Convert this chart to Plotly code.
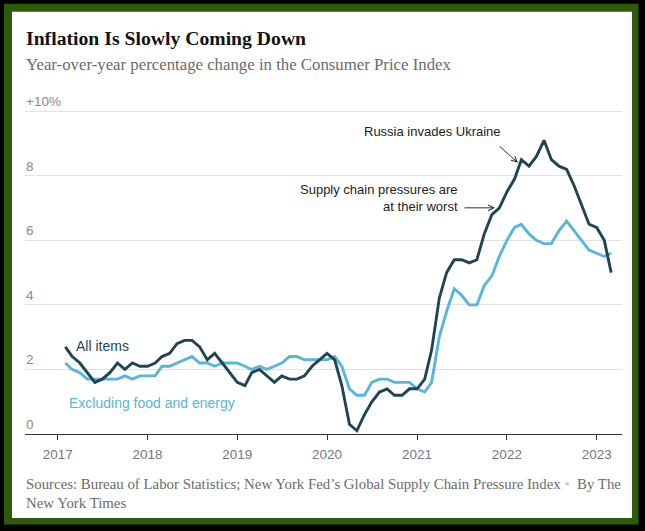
import pandas as pd
import plotly.graph_objects as go

# ---- data (year-over-year % change in CPI), monthly Feb 2017 - Mar 2023 ----
start_month = "2017-02-01"
n_months = 74
dates = pd.date_range(start_month, periods=n_months, freq="MS")

all_items = [
    2.7, 2.4, 2.2, 1.9, 1.6, 1.7, 1.9, 2.2, 2.0, 2.2, 2.1,            # 2017 Feb-Dec
    2.1, 2.2, 2.4, 2.5, 2.8, 2.9, 2.9, 2.7, 2.3, 2.5, 2.2, 1.9,       # 2018
    1.6, 1.5, 1.9, 2.0, 1.8, 1.6, 1.8, 1.7, 1.7, 1.8, 2.1, 2.3,       # 2019
    2.5, 2.3, 1.5, 0.3, 0.1, 0.6, 1.0, 1.3, 1.4, 1.2, 1.2, 1.4,       # 2020
    1.4, 1.7, 2.6, 4.2, 5.0, 5.4, 5.4, 5.3, 5.4, 6.2, 6.8, 7.0,       # 2021
    7.5, 7.9, 8.5, 8.3, 8.6, 9.1, 8.5, 8.3, 8.2, 7.7, 7.1, 6.5,       # 2022
    6.4, 6.0, 5.0,                                                    # 2023
]
core = [
    2.2, 2.0, 1.9, 1.7, 1.7, 1.7, 1.7, 1.7, 1.8, 1.7, 1.8,            # 2017 Feb-Dec
    1.8, 1.8, 2.1, 2.1, 2.2, 2.3, 2.4, 2.2, 2.2, 2.1, 2.2, 2.2,       # 2018
    2.2, 2.1, 2.0, 2.1, 2.0, 2.1, 2.2, 2.4, 2.4, 2.3, 2.3, 2.3,       # 2019
    2.3, 2.4, 2.1, 1.4, 1.2, 1.2, 1.6, 1.7, 1.7, 1.6, 1.6, 1.6,       # 2020
    1.4, 1.3, 1.6, 3.0, 3.8, 4.5, 4.3, 4.0, 4.0, 4.6, 4.9, 5.5,       # 2021
    6.0, 6.4, 6.5, 6.2, 6.0, 5.9, 5.9, 6.3, 6.6, 6.3, 6.0, 5.7,       # 2022
    5.6, 5.5, 5.6,                                                    # 2023
]

y_tickvals = [0, 2, 4, 6, 8, 10]
y_ticktext = ["0", "2", "4", "6", "8", "+10%"]
x_tickvals = ["2017-01-01", "2018-01-01", "2019-01-01", "2020-01-01",
              "2021-01-01", "2022-01-01", "2023-01-01"]
x_ticktext = ["2017", "2018", "2019", "2020", "2021", "2022", "2023"]

title = "Inflation Is Slowly Coming Down"
subtitle = "Year-over-year percentage change in the Consumer Price Index"
source = ("Sources: Bureau of Labor Statistics; New York Fed\u2019s Global Supply Chain "
          "Pressure Index <span style='color:#d0d0d0'>\u2022</span>  By The<br>New York Times")

# ---- styling / geometry ----
W, H = 645, 531
L, R = 25, 622          # plot area left / right in px
B = 434                 # y=0 line in px
PX_PER_UNIT = 32.25
Y_MAX = 11
T = B - Y_MAX * PX_PER_UNIT
PW, PH = R - L, B - T

DARK = "#1f4552"
LIGHT = "#57b6da"
SANS = "Liberation Sans, Arial, sans-serif"
SERIF = "Liberation Serif, Times New Roman, serif"


def px(xp):
    return (xp - L) / PW


def py(yp):
    return (B - yp) / PH


fig = go.Figure()
fig.add_trace(go.Scatter(x=dates, y=core, mode="lines",
                         line=dict(color=LIGHT, width=2.9), hoverinfo="skip"))
fig.add_trace(go.Scatter(x=dates, y=all_items, mode="lines",
                         line=dict(color=DARK, width=2.9), hoverinfo="skip"))

# frame: black outer, green band, white card
shapes = [
    dict(type="rect", xref="paper", yref="paper", layer="below",
         x0=px(4), x1=px(638.5), y0=py(524.5), y1=py(4),
         fillcolor="#2d5b0c", line=dict(width=0)),
    dict(type="rect", xref="paper", yref="paper", layer="below",
         x0=px(12), x1=px(632), y0=py(518), y1=py(12),
         fillcolor="white", line=dict(width=0)),
]

annotations = [
    dict(text="<b>" + title + "</b>", x=px(24), y=py(38), xref="paper", yref="paper",
         xanchor="left", yanchor="middle", showarrow=False,
         font=dict(family=SERIF, size=19.7, color="#121212")),
    dict(text=subtitle, x=px(24), y=py(65), xref="paper", yref="paper",
         xanchor="left", yanchor="middle", showarrow=False,
         font=dict(family=SERIF, size=16.8, color="#6b6b6b")),
    dict(text=source, x=px(24), y=py(474), xref="paper", yref="paper",
         xanchor="left", yanchor="top", align="left", showarrow=False,
         font=dict(family=SERIF, size=14.85, color="#6b6b6b")),
    dict(text="All items", x=px(74), y=py(346), xref="paper", yref="paper",
         xanchor="left", yanchor="middle", showarrow=False,
         font=dict(family=SANS, size=14, color=DARK)),
    dict(text="Excluding food and energy", x=px(67), y=py(403), xref="paper", yref="paper",
         xanchor="left", yanchor="middle", showarrow=False,
         font=dict(family=SANS, size=14, color=LIGHT)),
    dict(text="Russia invades Ukraine", x=px(503), y=py(132), xref="paper", yref="paper",
         xanchor="right", yanchor="middle", showarrow=False,
         font=dict(family=SANS, size=13, color="#222")),
    dict(text="Supply chain pressures are<br>at their worst", x=px(460), y=py(198),
         xref="paper", yref="paper", xanchor="right", yanchor="middle", align="right",
         showarrow=False, font=dict(family=SANS, size=13, color="#222")),
    # arrows
    dict(text="", x=px(518), y=py(163), xref="paper", yref="paper",
         ax=-20, ay=-18, showarrow=True, arrowhead=5, arrowsize=1.1,
         arrowwidth=1, arrowcolor="#333"),
    dict(text="", x=px(495), y=py(208), xref="paper", yref="paper",
         ax=-32, ay=0, showarrow=True, arrowhead=5, arrowsize=1.1,
         arrowwidth=1, arrowcolor="#333"),
]

# y tick labels drawn above their gridlines, left-aligned
for v, t in zip(y_tickvals, y_ticktext):
    annotations.append(dict(text=t, x=0, y=v, xref="paper", yref="y",
                            xanchor="left", yanchor="bottom", showarrow=False,
                            xshift=-1, yshift=0,
                            font=dict(family=SANS, size=13.5, color="#8a8a8a")))

fig.update_layout(
    width=W, height=H,
    margin=dict(l=L, r=W - R, t=T, b=H - B, pad=0),
    paper_bgcolor="black", plot_bgcolor="white",
    showlegend=False,
    shapes=shapes, annotations=annotations,
    xaxis=dict(
        type="date", range=["2016-08-21", "2023-04-14"],
        tickvals=x_tickvals, ticktext=x_ticktext,
        showgrid=False, zeroline=False,
        showline=True, linecolor="#333", linewidth=1,
        ticks="outside", ticklen=5, tickcolor="#333", tickwidth=1,
        ticklabelstandoff=3,
        tickfont=dict(family=SANS, size=13.5, color="#777"),
    ),
    yaxis=dict(
        range=[0, Y_MAX], tickvals=y_tickvals,
        showgrid=True, gridcolor="#e2e2e2", gridwidth=1, zeroline=False,
        showline=False, ticks="", showticklabels=False,
    ),
)

fig.write_html("out.html", config={"displayModeBar": False},
               post_script="document.body.style.margin='0';document.body.style.overflow='hidden';")
